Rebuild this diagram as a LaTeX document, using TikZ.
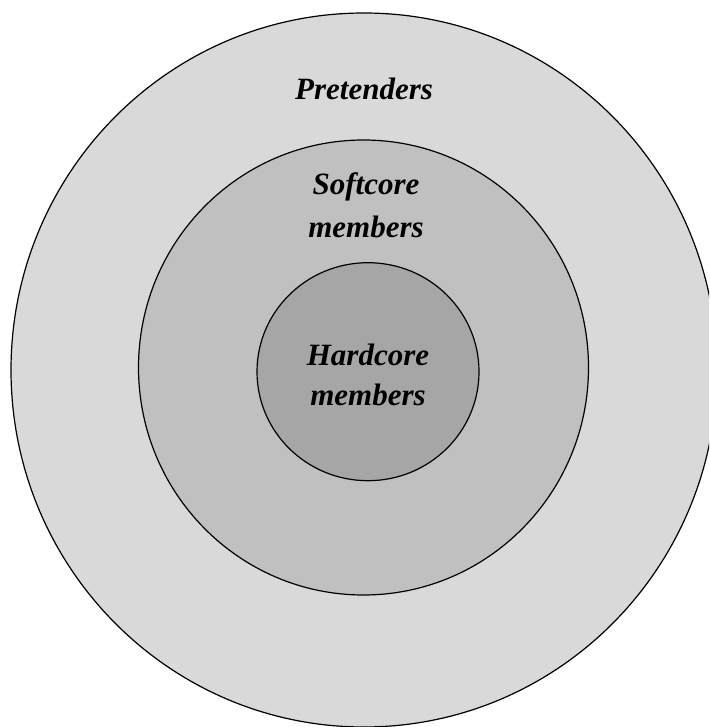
\documentclass[tikz,border=0pt]{standalone}
\usepackage{fontspec}
\setmainfont{Liberation Serif}
\begin{document}
\begin{tikzpicture}[x=1pt,y=-1pt,
  ring/.style={draw=black,line width=1.2pt},
  label/.style={font=\fontsize{31}{41}\selectfont\bfseries\itshape,anchor=base,inner sep=0pt}]
\useasboundingbox (0,0) rectangle (709,727);
\clip (0,0) rectangle (709,727);
\definecolor{outerfill}{HTML}{D9D9D9}
\definecolor{midfill}{HTML}{C0C0C0}
\definecolor{innerfill}{HTML}{A6A6A6}
\fill[white] (0,0) rectangle (709,727);
\draw[ring,fill=outerfill] (364,370) ellipse [x radius=353pt, y radius=357pt];
\draw[ring,fill=midfill] (363.5,367.5) ellipse [x radius=225pt, y radius=227.5pt];
\draw[ring,fill=innerfill] (368,371.7) ellipse [x radius=111pt, y radius=109pt];
\node[label] (pret) at (364,100) {Pretenders};
\node[label] (soft1) at (366,195) {Softcore};
\node[label] (soft2) at (366,237) {members};
\node[label] (hard1) at (368,365) {Hardcore};
\node[label] (hard2) at (368,405) {members};
\end{tikzpicture}
\end{document}
